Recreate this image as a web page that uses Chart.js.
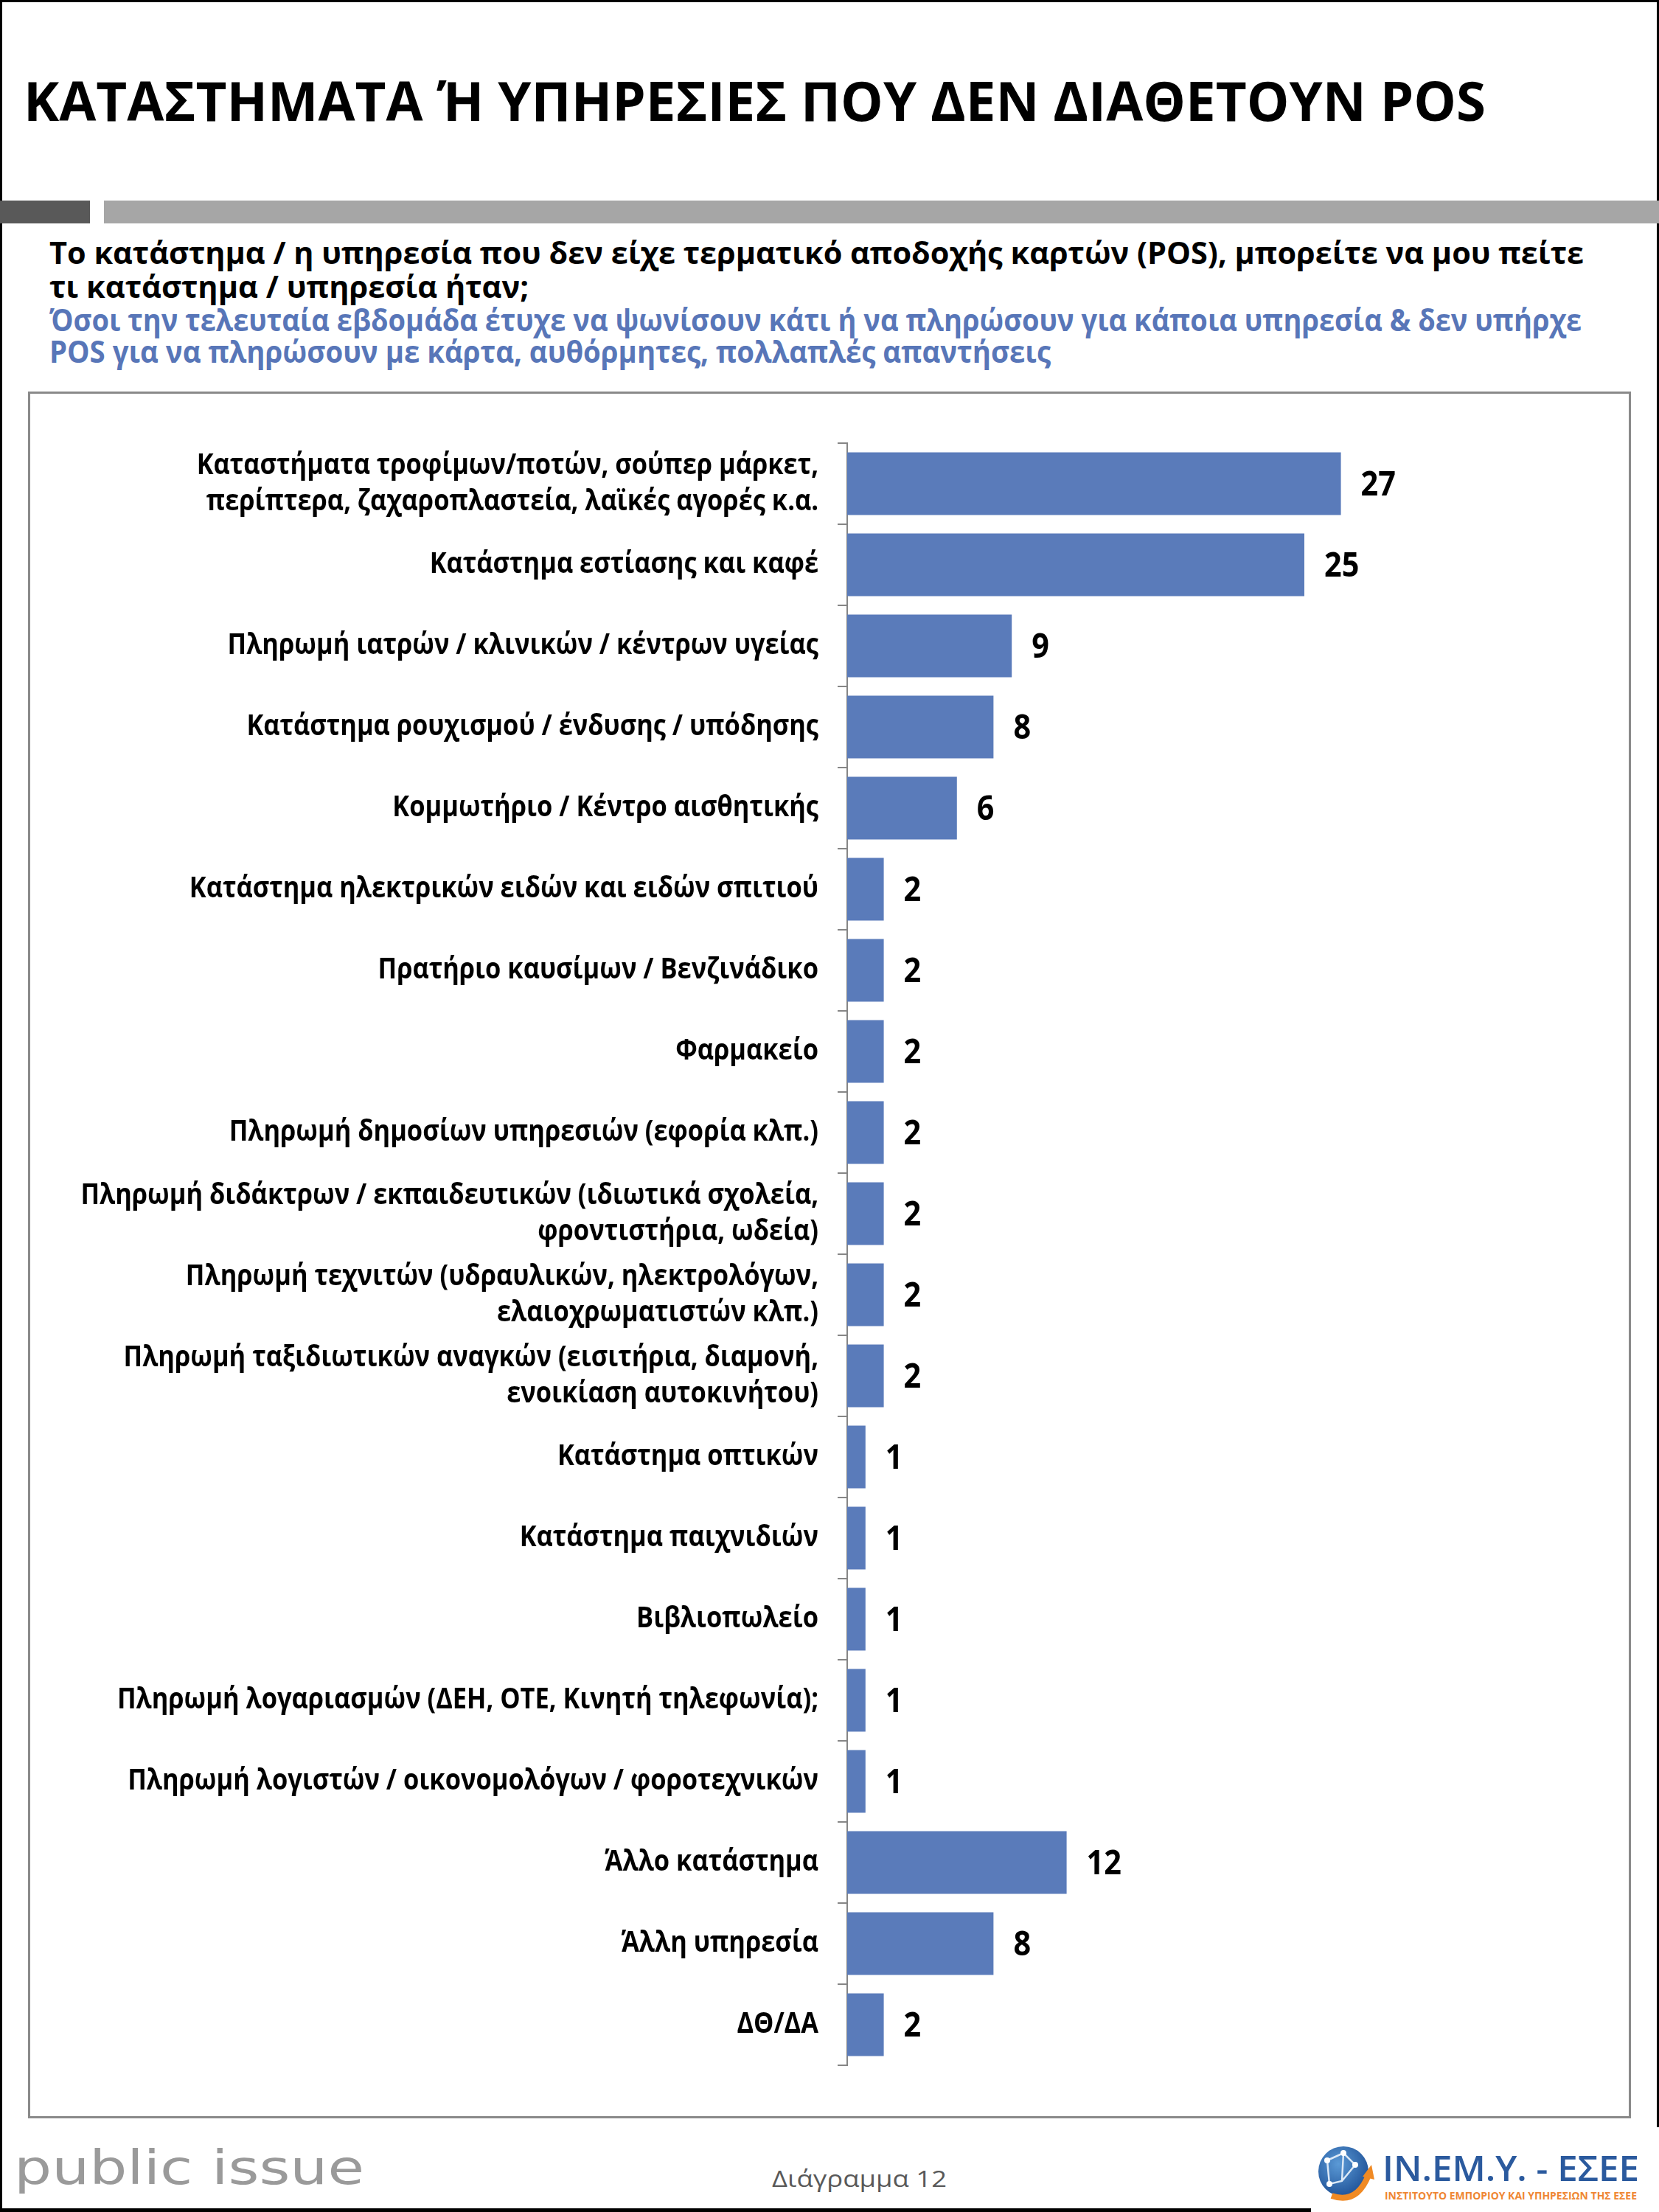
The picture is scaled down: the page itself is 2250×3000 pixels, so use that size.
<!DOCTYPE html>
<html>
<head>
<meta charset="utf-8">
<script src="https://cdn.jsdelivr.net/npm/chart.js@4.4.1/dist/chart.umd.min.js"></script>
<style>
  html, body { margin: 0; padding: 0; background: #fff; }
  #page { position: relative; width: 2250px; height: 3000px; overflow: hidden; }
  #deco { position: absolute; left: 0; top: 0; }
  #chartWrap { position: absolute; left: 41px; top: 536px; width: 2168px; height: 2334px; }
</style>
</head>
<body>
<div id="page">
  <svg id="deco" width="2250" height="3000" xmlns="http://www.w3.org/2000/svg"
       font-family="'Open Sans', sans-serif">
    <!-- frame -->
    <rect x="0" y="0" width="2250" height="3" fill="#000"/>
    <rect x="0" y="0" width="3" height="3000" fill="#000"/>
    <rect x="2247" y="0" width="3" height="2885" fill="#000"/>
    <rect x="0" y="2995" width="1778" height="5" fill="#000"/>
    <!-- grey bars under title -->
    <rect x="0" y="272" width="122" height="31" fill="#595959"/>
    <rect x="141" y="272" width="2109" height="31" fill="#a6a6a6"/>
    <!-- title -->
    <text x="32" y="164" font-size="74" font-weight="bold" fill="#000" textLength="1983" lengthAdjust="spacingAndGlyphs">ΚΑΤΑΣΤΗΜΑΤΑ Ή ΥΠΗΡΕΣΙΕΣ ΠΟΥ ΔΕΝ ΔΙΑΘΕΤΟΥΝ POS</text>
    <!-- question -->
    <text x="67" y="358" font-size="41" font-weight="bold" fill="#000" textLength="2081" lengthAdjust="spacingAndGlyphs">Το κατάστημα / η υπηρεσία που δεν είχε τερματικό αποδοχής καρτών (POS), μπορείτε να μου πείτε</text>
    <text x="67" y="404" font-size="41" font-weight="bold" fill="#000" textLength="650" lengthAdjust="spacingAndGlyphs">τι κατάστημα / υπηρεσία ήταν;</text>
    <text x="67" y="449" font-size="41" font-weight="bold" fill="#5876b8" textLength="2078" lengthAdjust="spacingAndGlyphs">Όσοι την τελευταία εβδομάδα έτυχε να ψωνίσουν κάτι ή να πληρώσουν για κάποια υπηρεσία &amp; δεν υπήρχε</text>
    <text x="67" y="492" font-size="41" font-weight="bold" fill="#5876b8" textLength="1358" lengthAdjust="spacingAndGlyphs">POS για να πληρώσουν με κάρτα, αυθόρμητες, πολλαπλές απαντήσεις</text>
    <!-- chart box -->
    <rect x="39.5" y="532.5" width="2171" height="2339" fill="none" stroke="#8a8a8a" stroke-width="3"/>
    <!-- footer -->
    <text x="19" y="2962" font-family="'DejaVu Sans', sans-serif" font-size="64" fill="#9a9a9a" textLength="475" lengthAdjust="spacingAndGlyphs">public issue</text>
    <text x="1047" y="2966" font-size="31" fill="#595959" textLength="237" lengthAdjust="spacingAndGlyphs">Διάγραμμα 12</text>
    <rect x="1778" y="2886" width="472" height="114" fill="#fff"/>
    <!-- IN.EM.Y. logo -->
    <defs>
      <radialGradient id="globe" cx="0.4" cy="0.35" r="0.7">
        <stop offset="0" stop-color="#5b9ad6"/>
        <stop offset="1" stop-color="#1d4f95"/>
      </radialGradient>
    </defs>
    <circle cx="1822" cy="2945" r="34" fill="url(#globe)"/>
    <path d="M1800 2930 L1822 2920 L1838 2936 L1820 2958 L1803 2962 Z M1822 2920 L1820 2958" fill="none" stroke="#dbe8f6" stroke-width="2.5"/>
    <circle cx="1822" cy="2920" r="4" fill="#fff"/>
    <circle cx="1838" cy="2936" r="4" fill="#fff"/>
    <circle cx="1803" cy="2962" r="4" fill="#fff"/>
    <circle cx="1800" cy="2930" r="4" fill="#fff"/>
    <path d="M1806 2978 Q1840 2990 1856 2950" fill="none" stroke="#f08a24" stroke-width="8"/>
    <path d="M1848 2952 L1860 2936 L1864 2956 Z" fill="#f08a24"/>
    <text x="1875" y="2958" font-size="47" font-weight="600" fill="#2b5a9e" textLength="348" lengthAdjust="spacingAndGlyphs">IN.EM.Y. - ΕΣΕΕ</text>
    <text x="1878" y="2983" font-size="14" font-weight="bold" fill="#ef8632" textLength="342" lengthAdjust="spacingAndGlyphs">ΙΝΣΤΙΤΟΥΤΟ ΕΜΠΟΡΙΟΥ ΚΑΙ ΥΠΗΡΕΣΙΩΝ ΤΗΣ ΕΣΕΕ</text>
  </svg>
  <div id="chartWrap"><canvas id="posChart" width="2168" height="2334"></canvas></div>
</div>

<script>
// κατηγορίες (πολλαπλές γραμμές όπου χρειάζεται)
var categories = [
  ['Καταστήματα τροφίμων/ποτών, σούπερ μάρκετ,', 'περίπτερα, ζαχαροπλαστεία, λαϊκές αγορές κ.α.'],
  'Κατάστημα εστίασης και καφέ',
  'Πληρωμή ιατρών / κλινικών / κέντρων υγείας',
  'Κατάστημα ρουχισμού / ένδυσης / υπόδησης',
  'Κομμωτήριο / Κέντρο αισθητικής',
  'Κατάστημα ηλεκτρικών ειδών και ειδών σπιτιού',
  'Πρατήριο καυσίμων / Βενζινάδικο',
  'Φαρμακείο',
  'Πληρωμή δημοσίων υπηρεσιών (εφορία κλπ.)',
  ['Πληρωμή διδάκτρων / εκπαιδευτικών (ιδιωτικά σχολεία,', 'φροντιστήρια, ωδεία)'],
  ['Πληρωμή τεχνιτών (υδραυλικών, ηλεκτρολόγων,', 'ελαιοχρωματιστών κλπ.)'],
  ['Πληρωμή ταξιδιωτικών αναγκών (εισιτήρια, διαμονή,', 'ενοικίαση αυτοκινήτου)'],
  'Κατάστημα οπτικών',
  'Κατάστημα παιχνιδιών',
  'Βιβλιοπωλείο',
  'Πληρωμή λογαριασμών (ΔΕΗ, ΟΤΕ, Κινητή τηλεφωνία);',
  'Πληρωμή λογιστών / οικονομολόγων / φοροτεχνικών',
  'Άλλο κατάστημα',
  'Άλλη υπηρεσία',
  'ΔΘ/ΔΑ'
];

// ποσοστά (%)
var values = [27, 25, 9, 8, 6, 2, 2, 2, 2, 2, 2, 2, 1, 1, 1, 1, 1, 12, 8, 2];

var labelFont = "'Open Sans', sans-serif";
var narrow = 0.86; // το πρωτότυπο είναι σε Calibri, πιο στενή γραμματοσειρά

// ετικέτες κατηγοριών, πιο στενές οριζόντια
var categoryLabels = {
  id: 'categoryLabels',
  afterDraw: function(chart) {
    var ctx = chart.ctx;
    var yScale = chart.scales.y;
    var xRight = yScale.right - 13 - 26;
    ctx.save();
    ctx.font = 'bold 40px ' + labelFont;
    ctx.fillStyle = '#000';
    ctx.textAlign = 'right';
    ctx.textBaseline = 'middle';
    categories.forEach(function(cat, i) {
      var lines = Array.isArray(cat) ? cat : [cat];
      var y = yScale.getPixelForTick(i);
      var lh = 49;
      var y0 = y - (lines.length - 1) * lh / 2;
      lines.forEach(function(line, j) {
        ctx.save();
        ctx.translate(xRight, y0 + j * lh);
        ctx.scale(narrow, 1);
        ctx.fillText(line, 0, 0);
        ctx.restore();
      });
    });
    ctx.restore();
  }
};

// ετικέτες τιμών στο τέλος κάθε μπάρας
var valueLabels = {
  id: 'valueLabels',
  afterDatasetsDraw: function(chart) {
    var ctx = chart.ctx;
    var meta = chart.getDatasetMeta(0);
    ctx.save();
    ctx.font = 'bold 46px ' + labelFont;
    ctx.fillStyle = '#000';
    ctx.textAlign = 'left';
    ctx.textBaseline = 'middle';
    meta.data.forEach(function(bar, i) {
      ctx.save();
      ctx.translate(bar.x + 27, bar.y + 3);
      ctx.scale(0.9, 1);
      ctx.fillText(String(values[i]), 0, 0);
      ctx.restore();
    });
    ctx.restore();
  }
};

document.addEventListener('DOMContentLoaded', function() {
  var posChart = new Chart(document.getElementById('posChart'), {
    type: 'bar',
    data: {
      labels: categories,
      datasets: [{
        data: values,
        backgroundColor: '#5a7bba',
        borderWidth: 0,
        barPercentage: 0.86,
        categoryPercentage: 0.9
      }]
    },
    options: {
      indexAxis: 'y',
      responsive: false,
      animation: false,
      layout: { padding: { top: 65, bottom: 69, right: 68, left: 0 } },
      plugins: {
        legend: { display: false },
        tooltip: { enabled: false }
      },
      scales: {
        x: {
          display: false,
          min: 0,
          max: 40
        },
        y: {
          afterFit: function(scale) { scale.width = 1108; },
          border: { display: true, color: '#868686', width: 2 },
          grid: {
            drawOnChartArea: false,
            drawTicks: true,
            tickLength: 13,
            color: '#868686',
            lineWidth: 2
          },
          ticks: {
            display: false,
            autoSkip: false
          }
        }
      }
    },
    plugins: [valueLabels, categoryLabels]
  });
});
</script>
</body>
</html>
